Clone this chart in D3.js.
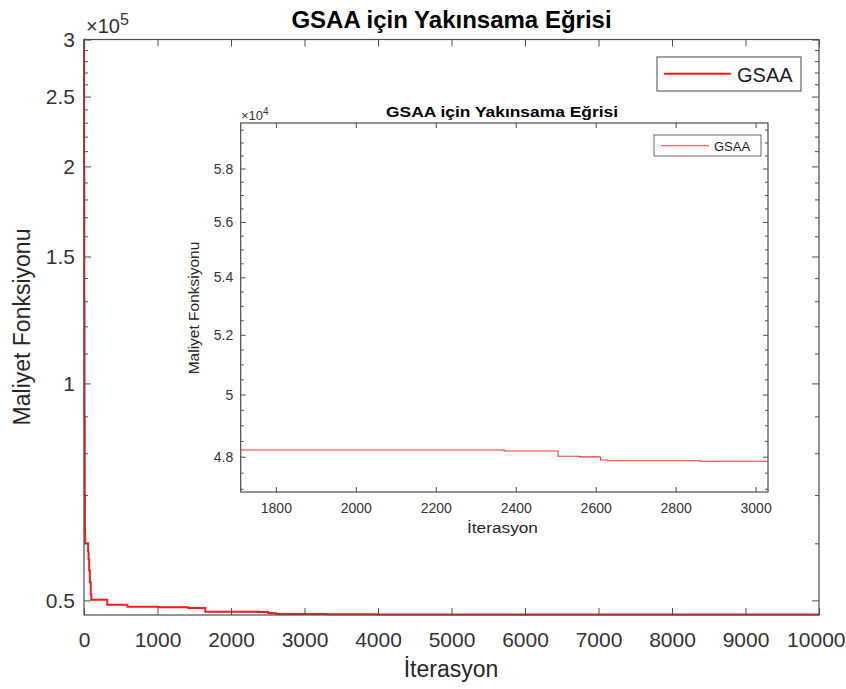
<!DOCTYPE html>
<html>
<head>
<meta charset="utf-8">
<script src="https://cdn.jsdelivr.net/npm/d3@7"></script>
<style>
  body { margin: 0; background: #fff; }
  svg { display: block; font-family: "Liberation Sans", Arial, sans-serif; }
  .tick text { fill: #333; }
  .tick line { stroke: #4d4d4d; }
</style>
</head>
<body>
<div id="container"></div>
<script>
const w = 846;
const h = 689;

// convergence curve (iteration, cost)
const iterations = [0, 2, 4, 7, 10, 13, 16, 56, 62, 70, 80, 92, 100, 316, 590, 1010, 1420, 1650, 2371, 2506, 2560, 2609, 2612, 2630, 2861, 3300, 4000, 5500, 10000];
const cost = [300000, 200000, 130000, 90000, 70000, 62500, 60000, 58500, 57000, 55000, 53000, 51000, 50110, 49320, 49000, 48900, 48780, 48210, 48180, 48012, 47995, 47990, 47896, 47874, 47855, 47830, 47810, 47800, 47800];

const mainXTicks = [0, 1000, 2000, 3000, 4000, 5000, 6000, 7000, 8000, 9000, 10000];
const mainYTicks = [50000, 100000, 150000, 200000, 250000, 300000];
const insetXTicks = [1800, 2000, 2200, 2400, 2600, 2800, 3000];
const insetYTicks = [48000, 50000, 52000, 54000, 56000, 58000];

const title = 'GSAA için Yakınsama Eğrisi';
const xLabel = 'İterasyon';
const yLabel = 'Maliyet Fonksiyonu';
const seriesName = 'GSAA';

const data = iterations.map((it, i) => ({it: it, v: cost[i]}));

const svg = d3.select('#container')
  .append('svg')
  .attr('width', w)
  .attr('height', h)
  .attr('viewBox', [0, 0, w, h]);

const axisColor = '#4d4d4d';

function drawAxes(g, x, y, o) {
  const [x0, x1] = x.range();
  const [y0, y1] = y.range();
  const minor = d3.range(o.minorFrom, o.minorTo + 1, o.minorStep)
    .filter(v => !o.yTicks.includes(v) && v > y.domain()[0] && v < y.domain()[1]);

  // minor ticks left / right
  g.append('g').attr('transform', `translate(${x0},0)`)
    .call(d3.axisLeft(y).tickValues(minor).tickFormat('').tickSize(-o.minorLen))
    .call(s => s.select('.domain').remove());
  g.append('g').attr('transform', `translate(${x1},0)`)
    .call(d3.axisRight(y).tickValues(minor).tickFormat('').tickSize(-o.minorLen))
    .call(s => s.select('.domain').remove());

  // major ticks
  g.append('g').attr('transform', `translate(${x0},0)`)
    .call(d3.axisLeft(y).tickValues(o.yTicks).tickFormat(o.yFormat).tickSize(-o.majorLen).tickPadding(o.yPad))
    .call(s => s.select('.domain').remove())
    .call(s => s.selectAll('text').style('font-size', o.tickFont + 'px'));
  const xb = g.append('g').attr('transform', `translate(0,${y0})`)
    .call(d3.axisBottom(x).tickValues(o.xTicks).tickFormat(d3.format('d')).tickSize(-o.majorLen).tickPadding(o.xPad))
    .call(s => s.select('.domain').remove())
    .call(s => s.selectAll('text').style('font-size', o.tickFont + 'px'));
  g.append('g').attr('transform', `translate(${x1},0)`)
    .call(d3.axisRight(y).tickValues(o.yTicks).tickFormat('').tickSize(-o.majorLen))
    .call(s => s.select('.domain').remove());
  g.append('g').attr('transform', `translate(0,${y1})`)
    .call(d3.axisTop(x).tickValues(o.xTicks).tickFormat('').tickSize(-o.majorLen))
    .call(s => s.select('.domain').remove());

  g.append('rect')
    .attr('x', x0).attr('y', y1)
    .attr('width', x1 - x0).attr('height', y0 - y1)
    .attr('fill', 'none')
    .attr('stroke', axisColor)
    .attr('stroke-width', 1.2);

  return xb;
}

// ---------- main axes ----------
const mx = d3.scaleLinear().domain([0, 10000]).range([84, 819]);
const my = d3.scaleLog().domain([47720, 300000]).range([615, 39.5]);

const main = svg.append('g');

main.append('path')
  .datum(data)
  .attr('fill', 'none')
  .attr('stroke', '#ff1a1a')
  .attr('stroke-width', 2)
  .attr('d', d3.line().x(d => mx(d.it)).y(d => my(d.v)).curve(d3.curveStepAfter));

const mainXAxis = drawAxes(main, mx, my, {
  xTicks: mainXTicks, yTicks: mainYTicks,
  yFormat: d => d3.format('~g')(d / 1e5),
  minorFrom: 50000, minorTo: 300000, minorStep: 10000,
  majorLen: 7, minorLen: 4, tickFont: 21, xPad: 17, yPad: 9
});

// last x label is pulled in so it stays inside the window
mainXAxis.selectAll('.tick')
  .filter(d => d === 10000)
  .select('text')
  .attr('text-anchor', 'end')
  .attr('x', 26);

main.append('text')
  .attr('x', 451.5).attr('y', 28)
  .attr('text-anchor', 'middle')
  .style('font-size', '24px').style('font-weight', 'bold')
  .attr('fill', '#000')
  .text(title);

main.append('text')
  .attr('x', 451).attr('y', 677)
  .attr('text-anchor', 'middle')
  .style('font-size', '23px')
  .attr('fill', '#262626')
  .text(xLabel);

main.append('text')
  .attr('transform', 'translate(30,327) rotate(-90)')
  .attr('text-anchor', 'middle')
  .style('font-size', '23px')
  .attr('fill', '#262626')
  .text(yLabel);

const mexp = main.append('text').attr('x', 86).attr('y', 33).attr('fill', '#333').style('font-size', '20px');
mexp.append('tspan').text('×10');
mexp.append('tspan').attr('dy', -8).style('font-size', '16px').text('5');

// main legend
const ml = main.append('g');
ml.append('rect').attr('x', 657).attr('y', 57).attr('width', 144).attr('height', 34)
  .attr('fill', '#fff').attr('stroke', '#666').attr('stroke-width', 1.2);
ml.append('line').attr('x1', 664).attr('x2', 731).attr('y1', 73.7).attr('y2', 73.7)
  .attr('stroke', '#ff1a1a').attr('stroke-width', 2);
ml.append('text').attr('x', 737).attr('y', 81.5).style('font-size', '20px').attr('fill', '#1a1a2e').text(seriesName);

// ---------- inset axes ----------
const ix = d3.scaleLinear().domain([1712, 3031]).range([240.7, 768]);
const iy = d3.scaleLog().domain([46900, 59760]).range([492, 123]);

const inset = svg.append('g');
inset.append('rect')
  .attr('x', 240.7).attr('y', 123).attr('width', 768 - 240.7).attr('height', 492 - 123)
  .attr('fill', '#fff');

inset.append('clipPath').attr('id', 'insetClip')
  .append('rect')
  .attr('x', 240.7).attr('y', 123).attr('width', 768 - 240.7).attr('height', 492 - 123);

inset.append('path')
  .datum(data)
  .attr('clip-path', 'url(#insetClip)')
  .attr('fill', 'none')
  .attr('stroke', '#ff3333')
  .attr('stroke-width', 1.1)
  .attr('d', d3.line().x(d => ix(d.it)).y(d => iy(d.v)).curve(d3.curveStepAfter));

drawAxes(inset, ix, iy, {
  xTicks: insetXTicks, yTicks: insetYTicks,
  yFormat: d => d3.format('~g')(d / 1e4),
  minorFrom: 47000, minorTo: 59500, minorStep: 500,
  majorLen: 5, minorLen: 3, tickFont: 14, xPad: 11, yPad: 7.5
});

inset.append('text')
  .attr('transform', 'translate(502,117) scale(1.16,1)')
  .attr('text-anchor', 'middle')
  .style('font-size', '15px').style('font-weight', 'bold')
  .attr('fill', '#000')
  .text(title);

inset.append('text')
  .attr('transform', 'translate(502.5,533) scale(1.15,1)')
  .attr('text-anchor', 'middle')
  .style('font-size', '15px')
  .attr('fill', '#262626')
  .text(xLabel);

inset.append('text')
  .attr('transform', 'translate(199,308) rotate(-90)')
  .attr('text-anchor', 'middle')
  .style('font-size', '15.5px')
  .attr('fill', '#262626')
  .text(yLabel);

const iexp = inset.append('text').attr('x', 241).attr('y', 120).attr('fill', '#333').style('font-size', '13px');
iexp.append('tspan').text('×10');
iexp.append('tspan').attr('dy', -5).style('font-size', '10px').text('4');

// inset legend
const il = inset.append('g');
il.append('rect').attr('x', 654).attr('y', 135).attr('width', 107).attr('height', 21)
  .attr('fill', '#fff').attr('stroke', '#666').attr('stroke-width', 1);
il.append('line').attr('x1', 661).attr('x2', 709).attr('y1', 145.7).attr('y2', 145.7)
  .attr('stroke', '#ff3333').attr('stroke-width', 1.1);
il.append('text').attr('x', 714).attr('y', 150.5).style('font-size', '13px').attr('fill', '#1a1a2e').text(seriesName);
</script>
</body>
</html>
